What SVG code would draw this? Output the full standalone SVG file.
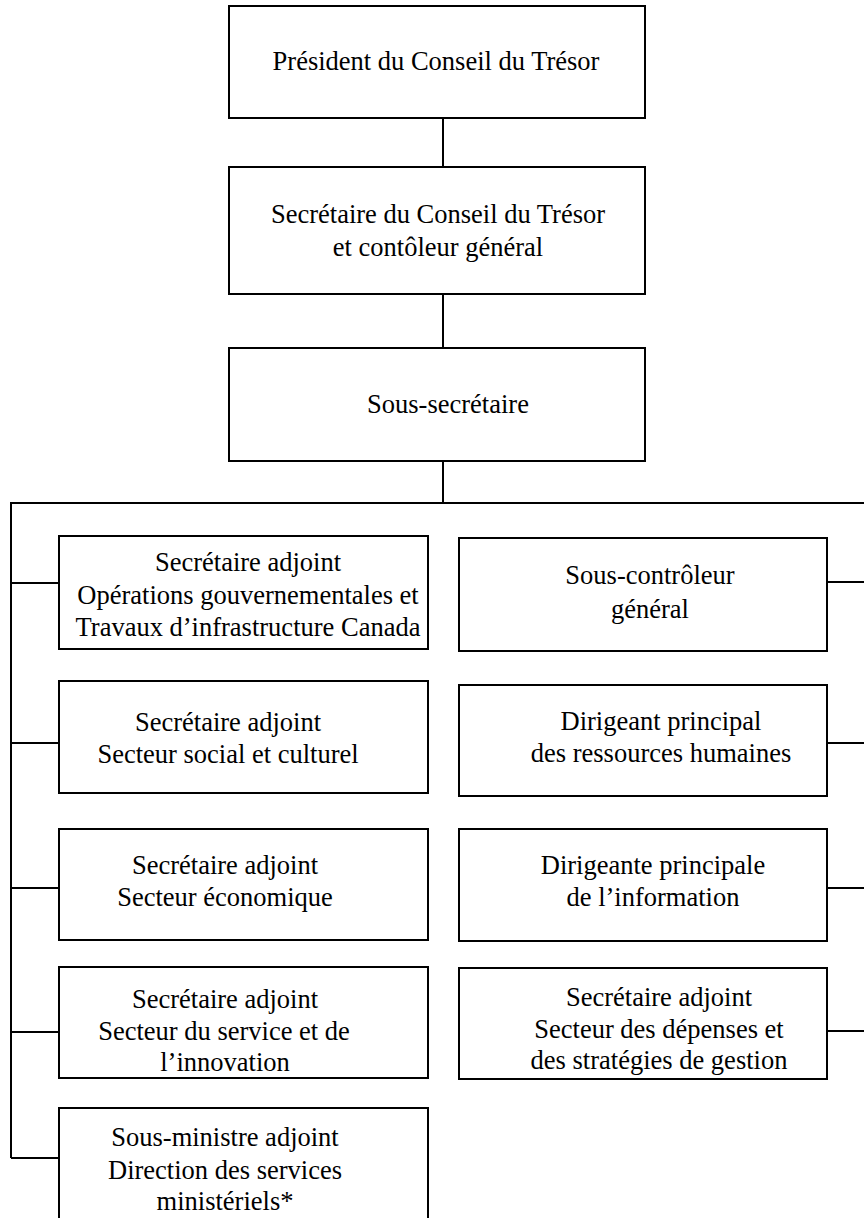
<svg xmlns="http://www.w3.org/2000/svg" width="864" height="1218" viewBox="0 0 864 1218">
<style>
.box{fill:#fff;stroke:#000;stroke-width:2}
.ln{fill:none;stroke:#000;stroke-width:2}
text{font-family:"Liberation Serif","Times New Roman",serif;font-size:26.5px;fill:#000;text-anchor:middle}
</style>
<rect width="864" height="1218" fill="#fff"/>
<g id="connectors">
<line class="ln" x1="443" y1="118" x2="443" y2="167"/>
<line class="ln" x1="443" y1="294" x2="443" y2="348"/>
<line class="ln" x1="443" y1="461" x2="443" y2="503"/>
<polyline class="ln" points="864,503 11,503 11,1158"/>
<line class="ln" x1="11" y1="583" x2="59" y2="583"/>
<line class="ln" x1="11" y1="743" x2="59" y2="743"/>
<line class="ln" x1="11" y1="888" x2="59" y2="888"/>
<line class="ln" x1="11" y1="1032" x2="59" y2="1032"/>
<line class="ln" x1="11" y1="1158" x2="59" y2="1158"/>
<line class="ln" x1="827" y1="582" x2="864" y2="582"/>
<line class="ln" x1="827" y1="743" x2="864" y2="743"/>
<line class="ln" x1="827" y1="888" x2="864" y2="888"/>
<line class="ln" x1="827" y1="1031" x2="864" y2="1031"/>
</g>
<g id="president">
<rect class="box" x="229" y="6" width="416" height="112"/>
<text x="436" y="70">Président du Conseil du Trésor</text>
</g>
<g id="secretaire">
<rect class="box" x="229" y="167" width="416" height="127"/>
<text x="438" y="223">Secrétaire du Conseil du Trésor</text>
<text x="438" y="256">et contôleur général</text>
</g>
<g id="sous-secretaire">
<rect class="box" x="229" y="348" width="416" height="113"/>
<text x="448" y="413">Sous-secrétaire</text>
</g>
<g id="sa-operations">
<rect class="box" x="59" y="536" width="369" height="113"/>
<text x="248" y="571">Secrétaire adjoint</text>
<text x="248" y="604">Opérations gouvernementales et</text>
<text x="248" y="636">Travaux d’infrastructure Canada</text>
</g>
<g id="sa-social">
<rect class="box" x="59" y="681" width="369" height="112"/>
<text x="228" y="731">Secrétaire adjoint</text>
<text x="228" y="763">Secteur social et culturel</text>
</g>
<g id="sa-economique">
<rect class="box" x="59" y="829" width="369" height="111"/>
<text x="225" y="874">Secrétaire adjoint</text>
<text x="225" y="906">Secteur économique</text>
</g>
<g id="sa-service">
<rect class="box" x="59" y="967" width="369" height="111"/>
<text x="225" y="1008">Secrétaire adjoint</text>
<text x="224" y="1040">Secteur du service et de</text>
<text x="225" y="1071">l’innovation</text>
</g>
<g id="sma-services">
<rect class="box" x="59" y="1108" width="369" height="120"/>
<text x="225" y="1146">Sous-ministre adjoint</text>
<text x="225" y="1179">Direction des services</text>
<text x="225" y="1210">ministériels*</text>
</g>
<g id="sous-controleur">
<rect class="box" x="459" y="538" width="368" height="113"/>
<text x="650" y="584">Sous-contrôleur</text>
<text x="650" y="618">général</text>
</g>
<g id="dp-rh">
<rect class="box" x="459" y="685" width="368" height="111"/>
<text x="661" y="730">Dirigeant principal</text>
<text x="661" y="762">des ressources humaines</text>
</g>
<g id="dp-information">
<rect class="box" x="459" y="829" width="368" height="112"/>
<text x="653" y="874">Dirigeante principale</text>
<text x="653" y="906">de l’information</text>
</g>
<g id="sa-depenses">
<rect class="box" x="459" y="968" width="368" height="111"/>
<text x="659" y="1006">Secrétaire adjoint</text>
<text x="659" y="1038">Secteur des dépenses et</text>
<text x="659" y="1069">des stratégies de gestion</text>
</g>
</svg>
